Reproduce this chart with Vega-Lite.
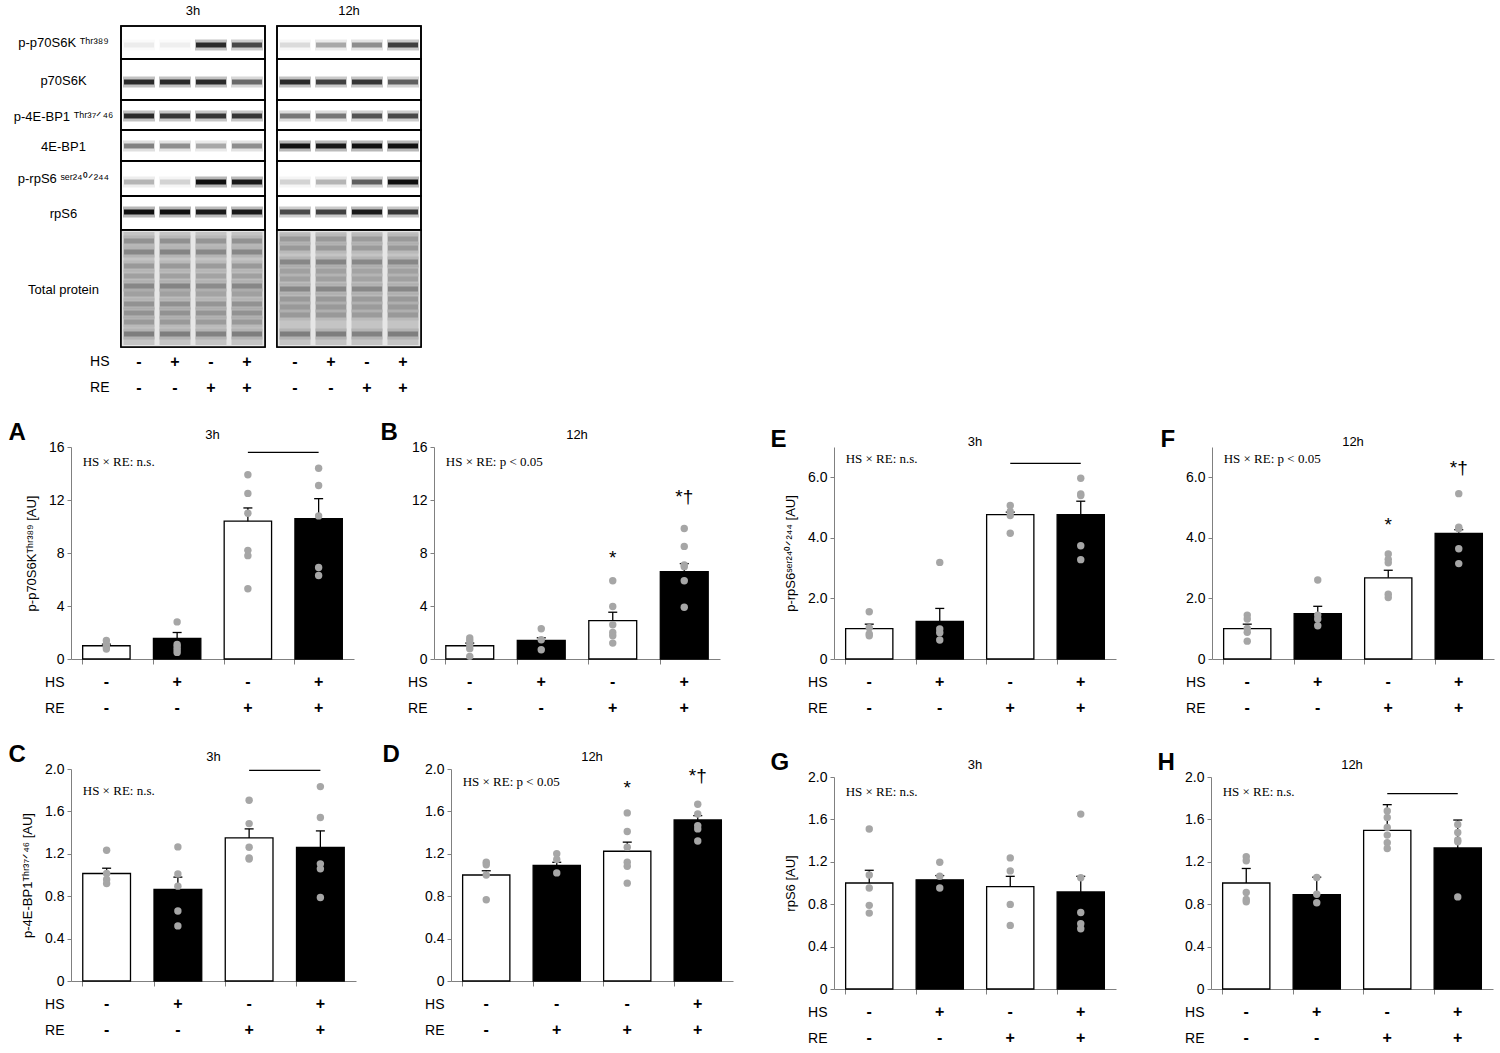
{
  "$schema": "https://vega.github.io/schema/vega-lite/v6.json",
  "background": "white",
  "padding": {"left": 8, "top": 5, "right": 2, "bottom": 2},
  "config": {
    "view": {"stroke": null},
    "font": "Liberation Sans",
    "title": {"font": "Liberation Sans", "fontSize": 13, "fontWeight": "normal", "color": "black"},
    "axis": {"grid": false, "labelFont": "Liberation Sans", "titleFont": "Liberation Sans", "labelColor": "black", "titleColor": "black", "labelFontSize": 14, "titleFontSize": 13, "titleFontWeight": "normal", "domainColor": "#808080", "tickColor": "#808080", "labelOverlap": false},
    "axisY": {"tickSize": 4, "labelPadding": 3, "titlePadding": 10},
    "axisX": {"tickSize": 5}
  },
  "datasets": {
    "design": [
      {"group": "1", "factor": "HS", "sign": "-"}, {"group": "2", "factor": "HS", "sign": "+"},
      {"group": "3", "factor": "HS", "sign": "-"}, {"group": "4", "factor": "HS", "sign": "+"},
      {"group": "1", "factor": "RE", "sign": "-"}, {"group": "2", "factor": "RE", "sign": "-"},
      {"group": "3", "factor": "RE", "sign": "+"}, {"group": "4", "factor": "RE", "sign": "+"}
    ],
    "designD": [
      {"group": "1", "factor": "HS", "sign": "-"}, {"group": "2", "factor": "HS", "sign": "-"},
      {"group": "3", "factor": "HS", "sign": "-"}, {"group": "4", "factor": "HS", "sign": "+"},
      {"group": "1", "factor": "RE", "sign": "-"}, {"group": "2", "factor": "RE", "sign": "+"},
      {"group": "3", "factor": "RE", "sign": "+"}, {"group": "4", "factor": "RE", "sign": "+"}
    ],
    "strips": [
      {"strip": "p-p70S6K", "top": 0, "bottom": 33},
      {"strip": "p70S6K", "top": 33, "bottom": 74},
      {"strip": "p-4E-BP1", "top": 74, "bottom": 104},
      {"strip": "4E-BP1", "top": 104, "bottom": 135},
      {"strip": "p-rpS6", "top": 135, "bottom": 170},
      {"strip": "rpS6", "top": 170, "bottom": 204},
      {"strip": "Total protein", "top": 204, "bottom": 321}
    ],
    "bands": [
      {"time": "3h", "group": "1", "y": 19, "intensity": 0.06}, {"time": "3h", "group": "2", "y": 19, "intensity": 0.05}, {"time": "3h", "group": "3", "y": 19, "intensity": 0.85}, {"time": "3h", "group": "4", "y": 19, "intensity": 0.7},
      {"time": "3h", "group": "1", "y": 56, "intensity": 0.85}, {"time": "3h", "group": "2", "y": 56, "intensity": 0.85}, {"time": "3h", "group": "3", "y": 56, "intensity": 0.85}, {"time": "3h", "group": "4", "y": 56, "intensity": 0.55},
      {"time": "3h", "group": "1", "y": 90, "intensity": 0.85}, {"time": "3h", "group": "2", "y": 90, "intensity": 0.8}, {"time": "3h", "group": "3", "y": 90, "intensity": 0.8}, {"time": "3h", "group": "4", "y": 90, "intensity": 0.8},
      {"time": "3h", "group": "1", "y": 120, "intensity": 0.45}, {"time": "3h", "group": "2", "y": 120, "intensity": 0.4}, {"time": "3h", "group": "3", "y": 120, "intensity": 0.3}, {"time": "3h", "group": "4", "y": 120, "intensity": 0.4},
      {"time": "3h", "group": "1", "y": 156, "intensity": 0.25}, {"time": "3h", "group": "2", "y": 156, "intensity": 0.15}, {"time": "3h", "group": "3", "y": 156, "intensity": 1}, {"time": "3h", "group": "4", "y": 156, "intensity": 0.95},
      {"time": "3h", "group": "1", "y": 186, "intensity": 1}, {"time": "3h", "group": "2", "y": 186, "intensity": 1}, {"time": "3h", "group": "3", "y": 186, "intensity": 0.95}, {"time": "3h", "group": "4", "y": 186, "intensity": 0.95},
      {"time": "3h", "group": "1", "y": 215, "intensity": 0.22}, {"time": "3h", "group": "2", "y": 215, "intensity": 0.23}, {"time": "3h", "group": "3", "y": 215, "intensity": 0.21}, {"time": "3h", "group": "4", "y": 215, "intensity": 0.22},
      {"time": "3h", "group": "1", "y": 226, "intensity": 0.28}, {"time": "3h", "group": "2", "y": 226, "intensity": 0.29}, {"time": "3h", "group": "3", "y": 226, "intensity": 0.27}, {"time": "3h", "group": "4", "y": 226, "intensity": 0.28},
      {"time": "3h", "group": "1", "y": 240, "intensity": 0.19}, {"time": "3h", "group": "2", "y": 240, "intensity": 0.19}, {"time": "3h", "group": "3", "y": 240, "intensity": 0.18}, {"time": "3h", "group": "4", "y": 240, "intensity": 0.19},
      {"time": "3h", "group": "1", "y": 250, "intensity": 0.16}, {"time": "3h", "group": "2", "y": 250, "intensity": 0.16}, {"time": "3h", "group": "3", "y": 250, "intensity": 0.15}, {"time": "3h", "group": "4", "y": 250, "intensity": 0.16},
      {"time": "3h", "group": "1", "y": 260, "intensity": 0.28}, {"time": "3h", "group": "2", "y": 260, "intensity": 0.29}, {"time": "3h", "group": "3", "y": 260, "intensity": 0.25}, {"time": "3h", "group": "4", "y": 260, "intensity": 0.28},
      {"time": "3h", "group": "1", "y": 268, "intensity": 0.16}, {"time": "3h", "group": "2", "y": 268, "intensity": 0.16}, {"time": "3h", "group": "3", "y": 268, "intensity": 0.15}, {"time": "3h", "group": "4", "y": 268, "intensity": 0.16},
      {"time": "3h", "group": "1", "y": 278, "intensity": 0.22}, {"time": "3h", "group": "2", "y": 278, "intensity": 0.23}, {"time": "3h", "group": "3", "y": 278, "intensity": 0.21}, {"time": "3h", "group": "4", "y": 278, "intensity": 0.22},
      {"time": "3h", "group": "1", "y": 287, "intensity": 0.22}, {"time": "3h", "group": "2", "y": 287, "intensity": 0.22}, {"time": "3h", "group": "3", "y": 287, "intensity": 0.21}, {"time": "3h", "group": "4", "y": 287, "intensity": 0.22},
      {"time": "3h", "group": "1", "y": 296, "intensity": 0.19}, {"time": "3h", "group": "2", "y": 296, "intensity": 0.19}, {"time": "3h", "group": "3", "y": 296, "intensity": 0.18}, {"time": "3h", "group": "4", "y": 296, "intensity": 0.19},
      {"time": "3h", "group": "1", "y": 308, "intensity": 0.32}, {"time": "3h", "group": "2", "y": 308, "intensity": 0.32}, {"time": "3h", "group": "3", "y": 308, "intensity": 0.3}, {"time": "3h", "group": "4", "y": 308, "intensity": 0.32},
      {"time": "12h", "group": "1", "y": 19, "intensity": 0.12}, {"time": "12h", "group": "2", "y": 19, "intensity": 0.3}, {"time": "12h", "group": "3", "y": 19, "intensity": 0.4}, {"time": "12h", "group": "4", "y": 19, "intensity": 0.75},
      {"time": "12h", "group": "1", "y": 56, "intensity": 0.85}, {"time": "12h", "group": "2", "y": 56, "intensity": 0.75}, {"time": "12h", "group": "3", "y": 56, "intensity": 0.8}, {"time": "12h", "group": "4", "y": 56, "intensity": 0.6},
      {"time": "12h", "group": "1", "y": 90, "intensity": 0.5}, {"time": "12h", "group": "2", "y": 90, "intensity": 0.5}, {"time": "12h", "group": "3", "y": 90, "intensity": 0.65}, {"time": "12h", "group": "4", "y": 90, "intensity": 0.7},
      {"time": "12h", "group": "1", "y": 120, "intensity": 1}, {"time": "12h", "group": "2", "y": 120, "intensity": 0.95}, {"time": "12h", "group": "3", "y": 120, "intensity": 1}, {"time": "12h", "group": "4", "y": 120, "intensity": 1},
      {"time": "12h", "group": "1", "y": 156, "intensity": 0.15}, {"time": "12h", "group": "2", "y": 156, "intensity": 0.25}, {"time": "12h", "group": "3", "y": 156, "intensity": 0.6}, {"time": "12h", "group": "4", "y": 156, "intensity": 1},
      {"time": "12h", "group": "1", "y": 186, "intensity": 0.7}, {"time": "12h", "group": "2", "y": 186, "intensity": 0.75}, {"time": "12h", "group": "3", "y": 186, "intensity": 0.95}, {"time": "12h", "group": "4", "y": 186, "intensity": 0.8},
      {"time": "12h", "group": "1", "y": 213, "intensity": 0.19}, {"time": "12h", "group": "2", "y": 213, "intensity": 0.19}, {"time": "12h", "group": "3", "y": 213, "intensity": 0.18}, {"time": "12h", "group": "4", "y": 213, "intensity": 0.19},
      {"time": "12h", "group": "1", "y": 222, "intensity": 0.19}, {"time": "12h", "group": "2", "y": 222, "intensity": 0.19}, {"time": "12h", "group": "3", "y": 222, "intensity": 0.18}, {"time": "12h", "group": "4", "y": 222, "intensity": 0.19},
      {"time": "12h", "group": "1", "y": 236, "intensity": 0.28}, {"time": "12h", "group": "2", "y": 236, "intensity": 0.29}, {"time": "12h", "group": "3", "y": 236, "intensity": 0.27}, {"time": "12h", "group": "4", "y": 236, "intensity": 0.28},
      {"time": "12h", "group": "1", "y": 245, "intensity": 0.16}, {"time": "12h", "group": "2", "y": 245, "intensity": 0.16}, {"time": "12h", "group": "3", "y": 245, "intensity": 0.15}, {"time": "12h", "group": "4", "y": 245, "intensity": 0.16},
      {"time": "12h", "group": "1", "y": 253, "intensity": 0.16}, {"time": "12h", "group": "2", "y": 253, "intensity": 0.16}, {"time": "12h", "group": "3", "y": 253, "intensity": 0.15}, {"time": "12h", "group": "4", "y": 253, "intensity": 0.16},
      {"time": "12h", "group": "1", "y": 263, "intensity": 0.28}, {"time": "12h", "group": "2", "y": 263, "intensity": 0.28}, {"time": "12h", "group": "3", "y": 263, "intensity": 0.27}, {"time": "12h", "group": "4", "y": 263, "intensity": 0.28},
      {"time": "12h", "group": "1", "y": 273, "intensity": 0.19}, {"time": "12h", "group": "2", "y": 273, "intensity": 0.19}, {"time": "12h", "group": "3", "y": 273, "intensity": 0.18}, {"time": "12h", "group": "4", "y": 273, "intensity": 0.19},
      {"time": "12h", "group": "1", "y": 281, "intensity": 0.19}, {"time": "12h", "group": "2", "y": 281, "intensity": 0.19}, {"time": "12h", "group": "3", "y": 281, "intensity": 0.18}, {"time": "12h", "group": "4", "y": 281, "intensity": 0.19},
      {"time": "12h", "group": "1", "y": 289, "intensity": 0.19}, {"time": "12h", "group": "2", "y": 289, "intensity": 0.19}, {"time": "12h", "group": "3", "y": 289, "intensity": 0.18}, {"time": "12h", "group": "4", "y": 289, "intensity": 0.19},
      {"time": "12h", "group": "1", "y": 308, "intensity": 0.32}, {"time": "12h", "group": "2", "y": 308, "intensity": 0.32}, {"time": "12h", "group": "3", "y": 308, "intensity": 0.3}, {"time": "12h", "group": "4", "y": 308, "intensity": 0.32}
    ],
    "bars": [
      {"panel": "A", "group": "1", "mean": 1.0, "upper": 1.12}, {"panel": "A", "group": "2", "mean": 1.55, "upper": 2.0}, {"panel": "A", "group": "3", "mean": 10.4, "upper": 11.4}, {"panel": "A", "group": "4", "mean": 10.6, "upper": 12.1},
      {"panel": "B", "group": "1", "mean": 1.0, "upper": 1.2}, {"panel": "B", "group": "2", "mean": 1.4, "upper": 1.6}, {"panel": "B", "group": "3", "mean": 2.9, "upper": 3.53}, {"panel": "B", "group": "4", "mean": 6.6, "upper": 7.2},
      {"panel": "C", "group": "1", "mean": 1.014, "upper": 1.064}, {"panel": "C", "group": "2", "mean": 0.863, "upper": 0.98}, {"panel": "C", "group": "3", "mean": 1.35, "upper": 1.435}, {"panel": "C", "group": "4", "mean": 1.26, "upper": 1.416},
      {"panel": "D", "group": "1", "mean": 1.0, "upper": 1.04}, {"panel": "D", "group": "2", "mean": 1.09, "upper": 1.12}, {"panel": "D", "group": "3", "mean": 1.224, "upper": 1.31}, {"panel": "D", "group": "4", "mean": 1.52, "upper": 1.56},
      {"panel": "E", "group": "1", "mean": 1.0, "upper": 1.15}, {"panel": "E", "group": "2", "mean": 1.24, "upper": 1.67}, {"panel": "E", "group": "3", "mean": 4.77, "upper": 4.85}, {"panel": "E", "group": "4", "mean": 4.77, "upper": 5.21},
      {"panel": "F", "group": "1", "mean": 1.0, "upper": 1.15}, {"panel": "F", "group": "2", "mean": 1.5, "upper": 1.74}, {"panel": "F", "group": "3", "mean": 2.68, "upper": 2.93}, {"panel": "F", "group": "4", "mean": 4.15, "upper": 4.27},
      {"panel": "G", "group": "1", "mean": 1.0, "upper": 1.12}, {"panel": "G", "group": "2", "mean": 1.03, "upper": 1.07}, {"panel": "G", "group": "3", "mean": 0.965, "upper": 1.063}, {"panel": "G", "group": "4", "mean": 0.915, "upper": 1.063},
      {"panel": "H", "group": "1", "mean": 1.0, "upper": 1.137}, {"panel": "H", "group": "2", "mean": 0.89, "upper": 1.055}, {"panel": "H", "group": "3", "mean": 1.496, "upper": 1.739}, {"panel": "H", "group": "4", "mean": 1.33, "upper": 1.594}
    ],
    "dots": [
      {"panel": "A", "group": "1", "value": 1.4}, {"panel": "A", "group": "1", "value": 1.1}, {"panel": "A", "group": "1", "value": 0.9}, {"panel": "A", "group": "1", "value": 0.75},
      {"panel": "A", "group": "2", "value": 2.8}, {"panel": "A", "group": "2", "value": 1.1}, {"panel": "A", "group": "2", "value": 0.9}, {"panel": "A", "group": "2", "value": 0.7}, {"panel": "A", "group": "2", "value": 0.5},
      {"panel": "A", "group": "3", "value": 13.9}, {"panel": "A", "group": "3", "value": 12.5}, {"panel": "A", "group": "3", "value": 11.0}, {"panel": "A", "group": "3", "value": 8.2}, {"panel": "A", "group": "3", "value": 7.8}, {"panel": "A", "group": "3", "value": 5.3},
      {"panel": "A", "group": "4", "value": 14.4}, {"panel": "A", "group": "4", "value": 13.1}, {"panel": "A", "group": "4", "value": 10.8}, {"panel": "A", "group": "4", "value": 6.9}, {"panel": "A", "group": "4", "value": 6.3},
      {"panel": "B", "group": "1", "value": 1.58}, {"panel": "B", "group": "1", "value": 1.38}, {"panel": "B", "group": "1", "value": 1.08}, {"panel": "B", "group": "1", "value": 0.78}, {"panel": "B", "group": "1", "value": 0.2},
      {"panel": "B", "group": "2", "value": 2.28}, {"panel": "B", "group": "2", "value": 1.45}, {"panel": "B", "group": "2", "value": 0.7},
      {"panel": "B", "group": "3", "value": 5.9}, {"panel": "B", "group": "3", "value": 3.96}, {"panel": "B", "group": "3", "value": 2.58}, {"panel": "B", "group": "3", "value": 2.0}, {"panel": "B", "group": "3", "value": 1.75}, {"panel": "B", "group": "3", "value": 1.2},
      {"panel": "B", "group": "4", "value": 9.85}, {"panel": "B", "group": "4", "value": 8.5}, {"panel": "B", "group": "4", "value": 7.1}, {"panel": "B", "group": "4", "value": 6.97}, {"panel": "B", "group": "4", "value": 5.9}, {"panel": "B", "group": "4", "value": 3.9},
      {"panel": "C", "group": "1", "value": 1.234}, {"panel": "C", "group": "1", "value": 1.014}, {"panel": "C", "group": "1", "value": 0.958}, {"panel": "C", "group": "1", "value": 0.92},
      {"panel": "C", "group": "2", "value": 1.265}, {"panel": "C", "group": "2", "value": 1.01}, {"panel": "C", "group": "2", "value": 0.895}, {"panel": "C", "group": "2", "value": 0.66}, {"panel": "C", "group": "2", "value": 0.52},
      {"panel": "C", "group": "3", "value": 1.705}, {"panel": "C", "group": "3", "value": 1.485}, {"panel": "C", "group": "3", "value": 1.262}, {"panel": "C", "group": "3", "value": 1.16}, {"panel": "C", "group": "3", "value": 1.15},
      {"panel": "C", "group": "4", "value": 1.834}, {"panel": "C", "group": "4", "value": 1.542}, {"panel": "C", "group": "4", "value": 1.105}, {"panel": "C", "group": "4", "value": 1.058}, {"panel": "C", "group": "4", "value": 0.788},
      {"panel": "D", "group": "1", "value": 1.12}, {"panel": "D", "group": "1", "value": 1.096}, {"panel": "D", "group": "1", "value": 1.0}, {"panel": "D", "group": "1", "value": 0.766},
      {"panel": "D", "group": "2", "value": 1.2}, {"panel": "D", "group": "2", "value": 1.146}, {"panel": "D", "group": "2", "value": 1.02},
      {"panel": "D", "group": "3", "value": 1.586}, {"panel": "D", "group": "3", "value": 1.41}, {"panel": "D", "group": "3", "value": 1.262}, {"panel": "D", "group": "3", "value": 1.12}, {"panel": "D", "group": "3", "value": 1.083}, {"panel": "D", "group": "3", "value": 0.923},
      {"panel": "D", "group": "4", "value": 1.667}, {"panel": "D", "group": "4", "value": 1.576}, {"panel": "D", "group": "4", "value": 1.466}, {"panel": "D", "group": "4", "value": 1.435}, {"panel": "D", "group": "4", "value": 1.32},
      {"panel": "E", "group": "1", "value": 1.56}, {"panel": "E", "group": "1", "value": 1.03}, {"panel": "E", "group": "1", "value": 0.83}, {"panel": "E", "group": "1", "value": 0.77},
      {"panel": "E", "group": "2", "value": 3.19}, {"panel": "E", "group": "2", "value": 0.99}, {"panel": "E", "group": "2", "value": 0.87}, {"panel": "E", "group": "2", "value": 0.63},
      {"panel": "E", "group": "3", "value": 5.07}, {"panel": "E", "group": "3", "value": 4.87}, {"panel": "E", "group": "3", "value": 4.74}, {"panel": "E", "group": "3", "value": 4.15},
      {"panel": "E", "group": "4", "value": 5.97}, {"panel": "E", "group": "4", "value": 5.45}, {"panel": "E", "group": "4", "value": 5.4}, {"panel": "E", "group": "4", "value": 3.74}, {"panel": "E", "group": "4", "value": 3.28},
      {"panel": "F", "group": "1", "value": 1.45}, {"panel": "F", "group": "1", "value": 1.32}, {"panel": "F", "group": "1", "value": 1.01}, {"panel": "F", "group": "1", "value": 0.88}, {"panel": "F", "group": "1", "value": 0.59},
      {"panel": "F", "group": "2", "value": 2.61}, {"panel": "F", "group": "2", "value": 1.45}, {"panel": "F", "group": "2", "value": 1.32}, {"panel": "F", "group": "2", "value": 1.1},
      {"panel": "F", "group": "3", "value": 3.47}, {"panel": "F", "group": "3", "value": 3.29}, {"panel": "F", "group": "3", "value": 3.18}, {"panel": "F", "group": "3", "value": 2.14}, {"panel": "F", "group": "3", "value": 2.03},
      {"panel": "F", "group": "4", "value": 5.46}, {"panel": "F", "group": "4", "value": 4.35}, {"panel": "F", "group": "4", "value": 4.3}, {"panel": "F", "group": "4", "value": 3.64}, {"panel": "F", "group": "4", "value": 3.15},
      {"panel": "G", "group": "1", "value": 1.51}, {"panel": "G", "group": "1", "value": 1.076}, {"panel": "G", "group": "1", "value": 0.953}, {"panel": "G", "group": "1", "value": 0.789}, {"panel": "G", "group": "1", "value": 0.716},
      {"panel": "G", "group": "2", "value": 1.196}, {"panel": "G", "group": "2", "value": 1.063}, {"panel": "G", "group": "2", "value": 0.953},
      {"panel": "G", "group": "3", "value": 1.237}, {"panel": "G", "group": "3", "value": 1.114}, {"panel": "G", "group": "3", "value": 0.798}, {"panel": "G", "group": "3", "value": 0.6},
      {"panel": "G", "group": "4", "value": 1.65}, {"panel": "G", "group": "4", "value": 1.05}, {"panel": "G", "group": "4", "value": 0.722}, {"panel": "G", "group": "4", "value": 0.615}, {"panel": "G", "group": "4", "value": 0.568},
      {"panel": "H", "group": "1", "value": 1.247}, {"panel": "H", "group": "1", "value": 1.21}, {"panel": "H", "group": "1", "value": 0.91}, {"panel": "H", "group": "1", "value": 0.844}, {"panel": "H", "group": "1", "value": 0.822},
      {"panel": "H", "group": "2", "value": 1.052}, {"panel": "H", "group": "2", "value": 0.894}, {"panel": "H", "group": "2", "value": 0.813},
      {"panel": "H", "group": "3", "value": 1.679}, {"panel": "H", "group": "3", "value": 1.619}, {"panel": "H", "group": "3", "value": 1.524}, {"panel": "H", "group": "3", "value": 1.452}, {"panel": "H", "group": "3", "value": 1.38}, {"panel": "H", "group": "3", "value": 1.326},
      {"panel": "H", "group": "4", "value": 1.553}, {"panel": "H", "group": "4", "value": 1.477}, {"panel": "H", "group": "4", "value": 1.405}, {"panel": "H", "group": "4", "value": 1.389}, {"panel": "H", "group": "4", "value": 0.869}
    ],
    "notes": [
      {"panel": "A", "label": "HS × RE: n.s.", "y": 14.9},
      {"panel": "B", "label": "HS × RE: p < 0.05", "y": 14.9},
      {"panel": "C", "label": "HS × RE: n.s.", "y": 1.79},
      {"panel": "D", "label": "HS × RE: p < 0.05", "y": 1.88},
      {"panel": "E", "label": "HS × RE: n.s.", "y": 6.6},
      {"panel": "F", "label": "HS × RE: p < 0.05", "y": 6.6},
      {"panel": "G", "label": "HS × RE: n.s.", "y": 1.86},
      {"panel": "H", "label": "HS × RE: n.s.", "y": 1.86}
    ],
    "stars": [
      {"panel": "B", "group": "3", "label": "*", "y": 7.6},
      {"panel": "B", "group": "4", "label": "*†", "y": 12.2},
      {"panel": "D", "group": "3", "label": "*", "y": 1.818},
      {"panel": "D", "group": "4", "label": "*†", "y": 1.93},
      {"panel": "F", "group": "3", "label": "*", "y": 4.41},
      {"panel": "F", "group": "4", "label": "*†", "y": 6.3}
    ],
    "brackets": [
      {"panel": "A", "from": "3", "to": "4", "y": 15.6},
      {"panel": "C", "from": "3", "to": "4", "y": 1.987},
      {"panel": "E", "from": "3", "to": "4", "y": 6.46},
      {"panel": "H", "from": "3", "to": "4", "y": 1.843}
    ]
  },
  "columns": 1,
  "align": "none",
  "spacing": 20,
  "concat": [
    {
      "spacing": 7,
      "hconcat": [
        {
          "spacing": 1,
          "vconcat": [
            {
              "width": 30, "height": 321,
              "data": {"name": "strips"},
              "mark": {"type": "tick", "opacity": 0},
              "encoding": {
                "y": {"field": "top", "type": "quantitative", "scale": {"domain": [0, 321], "reverse": true, "nice": false, "zero": false},
                      "axis": {"title": null, "domain": false, "ticks": false, "tickSize": 0, "labelAlign": "center", "labelBaseline": "middle", "labelPadding": 8, "labelFontSize": 13,
                               "values": [16.5, 54, 90, 120, 152.5, 187, 263],
                               "labelExpr": "datum.value === 16.5 ? 'p-p70S6K ᵀʰʳ³⁸⁹' : datum.value === 54 ? 'p70S6K' : datum.value === 90 ? 'p-4E-BP1 ᵀʰʳ³⁷ᐟ⁴⁶' : datum.value === 120 ? '4E-BP1' : datum.value === 152.5 ? 'p-rpS6 ˢᵉʳ²⁴⁰ᐟ²⁴⁴' : datum.value === 187 ? 'rpS6' : 'Total protein'"}}
              }
            },
            {
              "width": 30, "height": 52,
              "data": {"name": "design"},
              "mark": {"type": "text", "opacity": 0},
              "encoding": {
                "y": {"field": "factor", "type": "nominal", "scale": {"domain": ["HS", "RE"], "paddingInner": 0, "paddingOuter": 0}, "axis": {"orient": "right", "title": null, "domain": false, "ticks": false, "tickSize": 0, "labelFontSize": 14, "labelAlign": "right", "labelPadding": 8}},
                "text": {"field": "sign"}
              }
            }
          ]
        },
        {
          "spacing": 10,
          "hconcat": [
            {
              "spacing": 1,
              "vconcat": [
                {
                  "width": 144, "height": 321,
                  "title": {"text": "3h", "offset": 7},
                  "layer": [
                    {"data": {"name": "strips"}, "mark": {"type": "rect", "fill": "white", "stroke": "black", "strokeWidth": 1.6},
                     "encoding": {
                       "y": {"field": "top", "type": "quantitative", "scale": {"domain": [0, 321], "reverse": true, "nice": false, "zero": false}, "axis": null},
                       "y2": {"field": "bottom"}
                     }},
                    {"data": {"name": "strips"}, "transform": [{"filter": "datum.strip === 'Total protein'"}],
                     "mark": {"type": "rect", "fill": "#e6e6e6"},
                     "encoding": {"y": {"field": "top", "type": "quantitative"}, "y2": {"field": "bottom"}}},
                    {"data": {"name": "design"}, "transform": [{"filter": "datum.factor === 'HS'"}],
                     "mark": {"type": "rect", "width": {"band": 0.86}, "fill": "#c4c4c4"},
                     "encoding": {
                       "x": {"field": "group", "type": "nominal", "scale": {"domain": ["1", "2", "3", "4"], "paddingInner": 0, "paddingOuter": 0}, "axis": null},
                       "y": {"datum": 206}, "y2": {"datum": 319}
                     }},
                    {"data": {"name": "bands"}, "transform": [{"filter": "datum.time === '3h'"}],
                     "mark": {"type": "tick", "size": 32, "thickness": 11, "color": "#111111", "opacity": 1},
                     "encoding": {
                       "x": {"field": "group", "type": "nominal"},
                       "y": {"field": "y", "type": "quantitative"},
                       "fillOpacity": {"field": "intensity", "type": "quantitative", "scale": {"domain": [0, 1], "range": [0, 0.3]}, "legend": null}
                     }},
                    {"data": {"name": "bands"}, "transform": [{"filter": "datum.time === '3h'"}],
                     "mark": {"type": "tick", "size": 30, "thickness": 5, "color": "#111111"},
                     "encoding": {
                       "x": {"field": "group", "type": "nominal"},
                       "y": {"field": "y", "type": "quantitative"},
                       "opacity": {"field": "intensity", "type": "quantitative", "scale": null, "legend": null}
                     }},
                    {"data": {"name": "strips"}, "mark": {"type": "rect", "fillOpacity": 0, "stroke": "black", "strokeWidth": 1.6},
                     "encoding": {"y": {"field": "top", "type": "quantitative"}, "y2": {"field": "bottom"}}}
                  ]
                },
                {
                  "width": 144, "height": 52,
                  "data": {"name": "design"},
                  "mark": {"type": "text", "fontSize": 16, "fontWeight": "bold", "font": "Liberation Sans"},
                  "encoding": {
                    "x": {"field": "group", "type": "nominal", "scale": {"domain": ["1", "2", "3", "4"], "paddingInner": 0, "paddingOuter": 0}, "axis": null},
                    "y": {"field": "factor", "type": "nominal", "scale": {"domain": ["HS", "RE"], "paddingInner": 0, "paddingOuter": 0}, "axis": null},
                    "text": {"field": "sign"}
                  }
                }
              ]
            },
            {
              "spacing": 1,
              "vconcat": [
                {
                  "width": 144, "height": 321,
                  "title": {"text": "12h", "offset": 7},
                  "layer": [
                    {"data": {"name": "strips"}, "mark": {"type": "rect", "fill": "white", "stroke": "black", "strokeWidth": 1.6},
                     "encoding": {
                       "y": {"field": "top", "type": "quantitative", "scale": {"domain": [0, 321], "reverse": true, "nice": false, "zero": false}, "axis": null},
                       "y2": {"field": "bottom"}
                     }},
                    {"data": {"name": "strips"}, "transform": [{"filter": "datum.strip === 'Total protein'"}],
                     "mark": {"type": "rect", "fill": "#e6e6e6"},
                     "encoding": {"y": {"field": "top", "type": "quantitative"}, "y2": {"field": "bottom"}}},
                    {"data": {"name": "design"}, "transform": [{"filter": "datum.factor === 'HS'"}],
                     "mark": {"type": "rect", "width": {"band": 0.86}, "fill": "#c4c4c4"},
                     "encoding": {
                       "x": {"field": "group", "type": "nominal", "scale": {"domain": ["1", "2", "3", "4"], "paddingInner": 0, "paddingOuter": 0}, "axis": null},
                       "y": {"datum": 206}, "y2": {"datum": 319}
                     }},
                    {"data": {"name": "bands"}, "transform": [{"filter": "datum.time === '12h'"}],
                     "mark": {"type": "tick", "size": 32, "thickness": 11, "color": "#111111", "opacity": 1},
                     "encoding": {
                       "x": {"field": "group", "type": "nominal"},
                       "y": {"field": "y", "type": "quantitative"},
                       "fillOpacity": {"field": "intensity", "type": "quantitative", "scale": {"domain": [0, 1], "range": [0, 0.3]}, "legend": null}
                     }},
                    {"data": {"name": "bands"}, "transform": [{"filter": "datum.time === '12h'"}],
                     "mark": {"type": "tick", "size": 30, "thickness": 5, "color": "#111111"},
                     "encoding": {
                       "x": {"field": "group", "type": "nominal"},
                       "y": {"field": "y", "type": "quantitative"},
                       "opacity": {"field": "intensity", "type": "quantitative", "scale": null, "legend": null}
                     }},
                    {"data": {"name": "strips"}, "mark": {"type": "rect", "fillOpacity": 0, "stroke": "black", "strokeWidth": 1.6},
                     "encoding": {"y": {"field": "top", "type": "quantitative"}, "y2": {"field": "bottom"}}}
                  ]
                },
                {
                  "width": 144, "height": 52,
                  "data": {"name": "design"},
                  "mark": {"type": "text", "fontSize": 16, "fontWeight": "bold", "font": "Liberation Sans"},
                  "encoding": {
                    "x": {"field": "group", "type": "nominal", "scale": {"domain": ["1", "2", "3", "4"], "paddingInner": 0, "paddingOuter": 0}, "axis": null},
                    "y": {"field": "factor", "type": "nominal", "scale": {"domain": ["HS", "RE"], "paddingInner": 0, "paddingOuter": 0}, "axis": null},
                    "text": {"field": "sign"}
                  }
                }
              ]
            }
          ]
        }
      ]
    },
    {
      "spacing": 37,
      "hconcat": [
        {
          "spacing": 22,
          "vconcat": [
            {
              "spacing": 26,
              "hconcat": [
                {
                  "title": {"text": "A", "anchor": "start", "fontSize": 24, "fontWeight": "bold", "offset": 0, "dy": 16, "dx": -17},
                  "spacing": 3,
                  "vconcat": [
                    {
                      "width": 283, "height": 212,
                      "title": {"text": "3h", "offset": -2},
                      "layer": [
                        {"data": {"name": "bars"}, "transform": [{"filter": "datum.panel === 'A'"}],
                         "mark": {"type": "bar", "stroke": "black", "strokeWidth": 1.3},
                         "encoding": {
                           "x": {"field": "group", "type": "nominal", "scale": {"domain": ["1", "2", "3", "4"], "paddingInner": 0.33, "paddingOuter": 0.165}, "axis": {"title": null, "labels": false, "bandPosition": 0}},
                           "y": {"field": "mean", "type": "quantitative", "scale": {"domain": [0, 16], "nice": false}, "axis": {"title": "p-p70S6Kᵀʰʳ³⁸⁹ [AU]", "values": [0, 2, 4, 6, 8, 10, 12, 14, 16], "labelOverlap": false}},
                           "fill": {"field": "group", "type": "nominal", "scale": {"domain": ["1", "2", "3", "4"], "range": ["white", "black", "white", "black"]}, "legend": null}
                         }},
                        {"data": {"name": "bars"}, "transform": [{"filter": "datum.panel === 'A'"}],
                         "mark": {"type": "rule", "strokeWidth": 1.3, "color": "black"},
                         "encoding": {"x": {"field": "group", "type": "nominal"}, "y": {"field": "mean", "type": "quantitative"}, "y2": {"field": "upper"}}},
                        {"data": {"name": "bars"}, "transform": [{"filter": "datum.panel === 'A'"}],
                         "mark": {"type": "tick", "size": 9, "thickness": 1.3, "color": "black", "opacity": 1},
                         "encoding": {"x": {"field": "group", "type": "nominal"}, "y": {"field": "upper", "type": "quantitative"}}},
                        {"data": {"name": "dots"}, "transform": [{"filter": "datum.panel === 'A'"}],
                         "mark": {"type": "circle", "size": 55, "color": "#a6a6a6", "opacity": 1},
                         "encoding": {"x": {"field": "group", "type": "nominal"}, "y": {"field": "value", "type": "quantitative"}}},
                        {"data": {"name": "notes"}, "transform": [{"filter": "datum.panel === 'A'"}],
                         "mark": {"type": "text", "font": "Liberation Serif", "fontSize": 13, "align": "left", "baseline": "middle"},
                         "encoding": {"x": {"datum": "1", "bandPosition": 0}, "y": {"field": "y", "type": "quantitative"}, "text": {"field": "label"}}},
                        {"data": {"name": "brackets"}, "transform": [{"filter": "datum.panel === 'A'"}],
                         "mark": {"type": "rule", "strokeWidth": 1.3, "color": "black"},
                         "encoding": {"x": {"field": "from", "type": "nominal"}, "x2": {"field": "to"}, "y": {"field": "y", "type": "quantitative"}}}
                      ]
                    },
                    {
                      "width": 283, "height": 52,
                      "data": {"name": "design"},
                      "mark": {"type": "text", "fontSize": 16, "fontWeight": "bold", "font": "Liberation Sans"},
                      "encoding": {
                        "x": {"field": "group", "type": "nominal", "scale": {"domain": ["1", "2", "3", "4"], "paddingInner": 0.33, "paddingOuter": 0.165}, "axis": null},
                        "y": {"field": "factor", "type": "nominal", "scale": {"domain": ["HS", "RE"], "paddingInner": 0, "paddingOuter": 0}, "axis": {"title": null, "domain": false, "ticks": false, "labelFontSize": 14, "labelPadding": 7}},
                        "text": {"field": "sign"}
                      }
                    }
                  ]
                },
                {
                  "title": {"text": "B", "anchor": "start", "fontSize": 24, "fontWeight": "bold", "offset": 0, "dy": 16, "dx": -27},
                  "spacing": 3,
                  "vconcat": [
                    {
                      "width": 286, "height": 212,
                      "title": {"text": "12h", "offset": -2},
                      "layer": [
                        {"data": {"name": "bars"}, "transform": [{"filter": "datum.panel === 'B'"}],
                         "mark": {"type": "bar", "stroke": "black", "strokeWidth": 1.3},
                         "encoding": {
                           "x": {"field": "group", "type": "nominal", "scale": {"domain": ["1", "2", "3", "4"], "paddingInner": 0.33, "paddingOuter": 0.165}, "axis": {"title": null, "labels": false, "bandPosition": 0}},
                           "y": {"field": "mean", "type": "quantitative", "scale": {"domain": [0, 16], "nice": false}, "axis": {"title": null, "values": [0, 2, 4, 6, 8, 10, 12, 14, 16], "labelOverlap": false}},
                           "fill": {"field": "group", "type": "nominal", "scale": {"domain": ["1", "2", "3", "4"], "range": ["white", "black", "white", "black"]}, "legend": null}
                         }},
                        {"data": {"name": "bars"}, "transform": [{"filter": "datum.panel === 'B'"}],
                         "mark": {"type": "rule", "strokeWidth": 1.3, "color": "black"},
                         "encoding": {"x": {"field": "group", "type": "nominal"}, "y": {"field": "mean", "type": "quantitative"}, "y2": {"field": "upper"}}},
                        {"data": {"name": "bars"}, "transform": [{"filter": "datum.panel === 'B'"}],
                         "mark": {"type": "tick", "size": 9, "thickness": 1.3, "color": "black", "opacity": 1},
                         "encoding": {"x": {"field": "group", "type": "nominal"}, "y": {"field": "upper", "type": "quantitative"}}},
                        {"data": {"name": "dots"}, "transform": [{"filter": "datum.panel === 'B'"}],
                         "mark": {"type": "circle", "size": 55, "color": "#a6a6a6", "opacity": 1},
                         "encoding": {"x": {"field": "group", "type": "nominal"}, "y": {"field": "value", "type": "quantitative"}}},
                        {"data": {"name": "notes"}, "transform": [{"filter": "datum.panel === 'B'"}],
                         "mark": {"type": "text", "font": "Liberation Serif", "fontSize": 13, "align": "left", "baseline": "middle"},
                         "encoding": {"x": {"datum": "1", "bandPosition": 0}, "y": {"field": "y", "type": "quantitative"}, "text": {"field": "label"}}},
                        {"data": {"name": "stars"}, "transform": [{"filter": "datum.panel === 'B'"}],
                         "mark": {"type": "text", "fontSize": 19, "baseline": "middle"},
                         "encoding": {"x": {"field": "group", "type": "nominal"}, "y": {"field": "y", "type": "quantitative"}, "text": {"field": "label"}}}
                      ]
                    },
                    {
                      "width": 286, "height": 52,
                      "data": {"name": "design"},
                      "mark": {"type": "text", "fontSize": 16, "fontWeight": "bold", "font": "Liberation Sans"},
                      "encoding": {
                        "x": {"field": "group", "type": "nominal", "scale": {"domain": ["1", "2", "3", "4"], "paddingInner": 0.33, "paddingOuter": 0.165}, "axis": null},
                        "y": {"field": "factor", "type": "nominal", "scale": {"domain": ["HS", "RE"], "paddingInner": 0, "paddingOuter": 0}, "axis": {"title": null, "domain": false, "ticks": false, "labelFontSize": 14, "labelPadding": 7}},
                        "text": {"field": "sign"}
                      }
                    }
                  ]
                }
              ]
            },
            {
              "spacing": 26,
              "hconcat": [
                {
                  "title": {"text": "C", "anchor": "start", "fontSize": 24, "fontWeight": "bold", "offset": 0, "dy": 16, "dx": -13},
                  "spacing": 3,
                  "vconcat": [
                    {
                      "width": 285, "height": 212,
                      "title": {"text": "3h", "offset": -2},
                      "layer": [
                        {"data": {"name": "bars"}, "transform": [{"filter": "datum.panel === 'C'"}],
                         "mark": {"type": "bar", "stroke": "black", "strokeWidth": 1.3},
                         "encoding": {
                           "x": {"field": "group", "type": "nominal", "scale": {"domain": ["1", "2", "3", "4"], "paddingInner": 0.33, "paddingOuter": 0.165}, "axis": {"title": null, "labels": false, "bandPosition": 0}},
                           "y": {"field": "mean", "type": "quantitative", "scale": {"domain": [0, 2], "nice": false}, "axis": {"title": "p-4E-BP1ᵀʰʳ³⁷ᐟ⁴⁶ [AU]", "values": [0, 0.2, 0.4, 0.6, 0.8, 1.0, 1.2, 1.4, 1.6, 1.8, 2.0], "labelOverlap": false, "labelExpr": "datum.value === 0 ? '0' : format(datum.value, '.1f')"}},
                           "fill": {"field": "group", "type": "nominal", "scale": {"domain": ["1", "2", "3", "4"], "range": ["white", "black", "white", "black"]}, "legend": null}
                         }},
                        {"data": {"name": "bars"}, "transform": [{"filter": "datum.panel === 'C'"}],
                         "mark": {"type": "rule", "strokeWidth": 1.3, "color": "black"},
                         "encoding": {"x": {"field": "group", "type": "nominal"}, "y": {"field": "mean", "type": "quantitative"}, "y2": {"field": "upper"}}},
                        {"data": {"name": "bars"}, "transform": [{"filter": "datum.panel === 'C'"}],
                         "mark": {"type": "tick", "size": 9, "thickness": 1.3, "color": "black", "opacity": 1},
                         "encoding": {"x": {"field": "group", "type": "nominal"}, "y": {"field": "upper", "type": "quantitative"}}},
                        {"data": {"name": "dots"}, "transform": [{"filter": "datum.panel === 'C'"}],
                         "mark": {"type": "circle", "size": 55, "color": "#a6a6a6", "opacity": 1},
                         "encoding": {"x": {"field": "group", "type": "nominal"}, "y": {"field": "value", "type": "quantitative"}}},
                        {"data": {"name": "notes"}, "transform": [{"filter": "datum.panel === 'C'"}],
                         "mark": {"type": "text", "font": "Liberation Serif", "fontSize": 13, "align": "left", "baseline": "middle"},
                         "encoding": {"x": {"datum": "1", "bandPosition": 0}, "y": {"field": "y", "type": "quantitative"}, "text": {"field": "label"}}},
                        {"data": {"name": "brackets"}, "transform": [{"filter": "datum.panel === 'C'"}],
                         "mark": {"type": "rule", "strokeWidth": 1.3, "color": "black"},
                         "encoding": {"x": {"field": "from", "type": "nominal"}, "x2": {"field": "to"}, "y": {"field": "y", "type": "quantitative"}}}
                      ]
                    },
                    {
                      "width": 285, "height": 52,
                      "data": {"name": "design"},
                      "mark": {"type": "text", "fontSize": 16, "fontWeight": "bold", "font": "Liberation Sans"},
                      "encoding": {
                        "x": {"field": "group", "type": "nominal", "scale": {"domain": ["1", "2", "3", "4"], "paddingInner": 0.33, "paddingOuter": 0.165}, "axis": null},
                        "y": {"field": "factor", "type": "nominal", "scale": {"domain": ["HS", "RE"], "paddingInner": 0, "paddingOuter": 0}, "axis": {"title": null, "domain": false, "ticks": false, "labelFontSize": 14, "labelPadding": 7}},
                        "text": {"field": "sign"}
                      }
                    }
                  ]
                },
                {
                  "title": {"text": "D", "anchor": "start", "fontSize": 24, "fontWeight": "bold", "offset": 0, "dy": 16, "dx": -42},
                  "spacing": 3,
                  "vconcat": [
                    {
                      "width": 282, "height": 212,
                      "title": {"text": "12h", "offset": -2},
                      "layer": [
                        {"data": {"name": "bars"}, "transform": [{"filter": "datum.panel === 'D'"}],
                         "mark": {"type": "bar", "stroke": "black", "strokeWidth": 1.3},
                         "encoding": {
                           "x": {"field": "group", "type": "nominal", "scale": {"domain": ["1", "2", "3", "4"], "paddingInner": 0.33, "paddingOuter": 0.165}, "axis": {"title": null, "labels": false, "bandPosition": 0}},
                           "y": {"field": "mean", "type": "quantitative", "scale": {"domain": [0, 2], "nice": false}, "axis": {"title": null, "values": [0, 0.2, 0.4, 0.6, 0.8, 1.0, 1.2, 1.4, 1.6, 1.8, 2.0], "labelOverlap": false, "labelExpr": "datum.value === 0 ? '0' : format(datum.value, '.1f')"}},
                           "fill": {"field": "group", "type": "nominal", "scale": {"domain": ["1", "2", "3", "4"], "range": ["white", "black", "white", "black"]}, "legend": null}
                         }},
                        {"data": {"name": "bars"}, "transform": [{"filter": "datum.panel === 'D'"}],
                         "mark": {"type": "rule", "strokeWidth": 1.3, "color": "black"},
                         "encoding": {"x": {"field": "group", "type": "nominal"}, "y": {"field": "mean", "type": "quantitative"}, "y2": {"field": "upper"}}},
                        {"data": {"name": "bars"}, "transform": [{"filter": "datum.panel === 'D'"}],
                         "mark": {"type": "tick", "size": 9, "thickness": 1.3, "color": "black", "opacity": 1},
                         "encoding": {"x": {"field": "group", "type": "nominal"}, "y": {"field": "upper", "type": "quantitative"}}},
                        {"data": {"name": "dots"}, "transform": [{"filter": "datum.panel === 'D'"}],
                         "mark": {"type": "circle", "size": 55, "color": "#a6a6a6", "opacity": 1},
                         "encoding": {"x": {"field": "group", "type": "nominal"}, "y": {"field": "value", "type": "quantitative"}}},
                        {"data": {"name": "notes"}, "transform": [{"filter": "datum.panel === 'D'"}],
                         "mark": {"type": "text", "font": "Liberation Serif", "fontSize": 13, "align": "left", "baseline": "middle"},
                         "encoding": {"x": {"datum": "1", "bandPosition": 0}, "y": {"field": "y", "type": "quantitative"}, "text": {"field": "label"}}},
                        {"data": {"name": "stars"}, "transform": [{"filter": "datum.panel === 'D'"}],
                         "mark": {"type": "text", "fontSize": 19, "baseline": "middle"},
                         "encoding": {"x": {"field": "group", "type": "nominal"}, "y": {"field": "y", "type": "quantitative"}, "text": {"field": "label"}}}
                      ]
                    },
                    {
                      "width": 282, "height": 52,
                      "data": {"name": "designD"},
                      "mark": {"type": "text", "fontSize": 16, "fontWeight": "bold", "font": "Liberation Sans"},
                      "encoding": {
                        "x": {"field": "group", "type": "nominal", "scale": {"domain": ["1", "2", "3", "4"], "paddingInner": 0.33, "paddingOuter": 0.165}, "axis": null},
                        "y": {"field": "factor", "type": "nominal", "scale": {"domain": ["HS", "RE"], "paddingInner": 0, "paddingOuter": 0}, "axis": {"title": null, "domain": false, "ticks": false, "labelFontSize": 14, "labelPadding": 7}},
                        "text": {"field": "sign"}
                      }
                    }
                  ]
                }
              ]
            }
          ]
        },
        {
          "spacing": 30,
          "vconcat": [
            {
              "spacing": 44,
              "hconcat": [
                {
                  "title": {"text": "E", "anchor": "start", "fontSize": 24, "fontWeight": "bold", "offset": 0, "dy": 16, "dx": -14},
                  "spacing": 3,
                  "vconcat": [
                    {
                      "width": 282, "height": 212,
                      "title": {"text": "3h", "offset": -2},
                      "layer": [
                        {"data": {"name": "bars"}, "transform": [{"filter": "datum.panel === 'E'"}],
                         "mark": {"type": "bar", "stroke": "black", "strokeWidth": 1.3},
                         "encoding": {
                           "x": {"field": "group", "type": "nominal", "scale": {"domain": ["1", "2", "3", "4"], "paddingInner": 0.33, "paddingOuter": 0.165}, "axis": {"title": null, "labels": false, "bandPosition": 0}},
                           "y": {"field": "mean", "type": "quantitative", "scale": {"domain": [0, 7], "nice": false}, "axis": {"title": "p-rpS6ˢᵉʳ²⁴⁰ᐟ²⁴⁴ [AU]", "values": [0, 1, 2, 3, 4, 5, 6, 7], "labelOverlap": false, "labelExpr": "datum.value === 0 ? '0' : format(datum.value, '.1f')"}},
                           "fill": {"field": "group", "type": "nominal", "scale": {"domain": ["1", "2", "3", "4"], "range": ["white", "black", "white", "black"]}, "legend": null}
                         }},
                        {"data": {"name": "bars"}, "transform": [{"filter": "datum.panel === 'E'"}],
                         "mark": {"type": "rule", "strokeWidth": 1.3, "color": "black"},
                         "encoding": {"x": {"field": "group", "type": "nominal"}, "y": {"field": "mean", "type": "quantitative"}, "y2": {"field": "upper"}}},
                        {"data": {"name": "bars"}, "transform": [{"filter": "datum.panel === 'E'"}],
                         "mark": {"type": "tick", "size": 9, "thickness": 1.3, "color": "black", "opacity": 1},
                         "encoding": {"x": {"field": "group", "type": "nominal"}, "y": {"field": "upper", "type": "quantitative"}}},
                        {"data": {"name": "dots"}, "transform": [{"filter": "datum.panel === 'E'"}],
                         "mark": {"type": "circle", "size": 55, "color": "#a6a6a6", "opacity": 1},
                         "encoding": {"x": {"field": "group", "type": "nominal"}, "y": {"field": "value", "type": "quantitative"}}},
                        {"data": {"name": "notes"}, "transform": [{"filter": "datum.panel === 'E'"}],
                         "mark": {"type": "text", "font": "Liberation Serif", "fontSize": 13, "align": "left", "baseline": "middle"},
                         "encoding": {"x": {"datum": "1", "bandPosition": 0}, "y": {"field": "y", "type": "quantitative"}, "text": {"field": "label"}}},
                        {"data": {"name": "brackets"}, "transform": [{"filter": "datum.panel === 'E'"}],
                         "mark": {"type": "rule", "strokeWidth": 1.3, "color": "black"},
                         "encoding": {"x": {"field": "from", "type": "nominal"}, "x2": {"field": "to"}, "y": {"field": "y", "type": "quantitative"}}}
                      ]
                    },
                    {
                      "width": 282, "height": 52,
                      "data": {"name": "design"},
                      "mark": {"type": "text", "fontSize": 16, "fontWeight": "bold", "font": "Liberation Sans"},
                      "encoding": {
                        "x": {"field": "group", "type": "nominal", "scale": {"domain": ["1", "2", "3", "4"], "paddingInner": 0.33, "paddingOuter": 0.165}, "axis": null},
                        "y": {"field": "factor", "type": "nominal", "scale": {"domain": ["HS", "RE"], "paddingInner": 0, "paddingOuter": 0}, "axis": {"title": null, "domain": false, "ticks": false, "labelFontSize": 14, "labelPadding": 7}},
                        "text": {"field": "sign"}
                      }
                    }
                  ]
                },
                {
                  "title": {"text": "F", "anchor": "start", "fontSize": 24, "fontWeight": "bold", "offset": 0, "dy": 16, "dx": -25},
                  "spacing": 3,
                  "vconcat": [
                    {
                      "width": 282, "height": 212,
                      "title": {"text": "12h", "offset": -2},
                      "layer": [
                        {"data": {"name": "bars"}, "transform": [{"filter": "datum.panel === 'F'"}],
                         "mark": {"type": "bar", "stroke": "black", "strokeWidth": 1.3},
                         "encoding": {
                           "x": {"field": "group", "type": "nominal", "scale": {"domain": ["1", "2", "3", "4"], "paddingInner": 0.33, "paddingOuter": 0.165}, "axis": {"title": null, "labels": false, "bandPosition": 0}},
                           "y": {"field": "mean", "type": "quantitative", "scale": {"domain": [0, 7], "nice": false}, "axis": {"title": null, "values": [0, 1, 2, 3, 4, 5, 6, 7], "labelOverlap": false, "labelExpr": "datum.value === 0 ? '0' : format(datum.value, '.1f')"}},
                           "fill": {"field": "group", "type": "nominal", "scale": {"domain": ["1", "2", "3", "4"], "range": ["white", "black", "white", "black"]}, "legend": null}
                         }},
                        {"data": {"name": "bars"}, "transform": [{"filter": "datum.panel === 'F'"}],
                         "mark": {"type": "rule", "strokeWidth": 1.3, "color": "black"},
                         "encoding": {"x": {"field": "group", "type": "nominal"}, "y": {"field": "mean", "type": "quantitative"}, "y2": {"field": "upper"}}},
                        {"data": {"name": "bars"}, "transform": [{"filter": "datum.panel === 'F'"}],
                         "mark": {"type": "tick", "size": 9, "thickness": 1.3, "color": "black", "opacity": 1},
                         "encoding": {"x": {"field": "group", "type": "nominal"}, "y": {"field": "upper", "type": "quantitative"}}},
                        {"data": {"name": "dots"}, "transform": [{"filter": "datum.panel === 'F'"}],
                         "mark": {"type": "circle", "size": 55, "color": "#a6a6a6", "opacity": 1},
                         "encoding": {"x": {"field": "group", "type": "nominal"}, "y": {"field": "value", "type": "quantitative"}}},
                        {"data": {"name": "notes"}, "transform": [{"filter": "datum.panel === 'F'"}],
                         "mark": {"type": "text", "font": "Liberation Serif", "fontSize": 13, "align": "left", "baseline": "middle"},
                         "encoding": {"x": {"datum": "1", "bandPosition": 0}, "y": {"field": "y", "type": "quantitative"}, "text": {"field": "label"}}},
                        {"data": {"name": "stars"}, "transform": [{"filter": "datum.panel === 'F'"}],
                         "mark": {"type": "text", "fontSize": 19, "baseline": "middle"},
                         "encoding": {"x": {"field": "group", "type": "nominal"}, "y": {"field": "y", "type": "quantitative"}, "text": {"field": "label"}}}
                      ]
                    },
                    {
                      "width": 282, "height": 52,
                      "data": {"name": "design"},
                      "mark": {"type": "text", "fontSize": 16, "fontWeight": "bold", "font": "Liberation Sans"},
                      "encoding": {
                        "x": {"field": "group", "type": "nominal", "scale": {"domain": ["1", "2", "3", "4"], "paddingInner": 0.33, "paddingOuter": 0.165}, "axis": null},
                        "y": {"field": "factor", "type": "nominal", "scale": {"domain": ["HS", "RE"], "paddingInner": 0, "paddingOuter": 0}, "axis": {"title": null, "domain": false, "ticks": false, "labelFontSize": 14, "labelPadding": 7}},
                        "text": {"field": "sign"}
                      }
                    }
                  ]
                }
              ]
            },
            {
              "spacing": 41,
              "hconcat": [
                {
                  "title": {"text": "G", "anchor": "start", "fontSize": 24, "fontWeight": "bold", "offset": 0, "dy": 16, "dx": -14},
                  "spacing": 3,
                  "vconcat": [
                    {
                      "width": 282, "height": 212,
                      "title": {"text": "3h", "offset": -2},
                      "layer": [
                        {"data": {"name": "bars"}, "transform": [{"filter": "datum.panel === 'G'"}],
                         "mark": {"type": "bar", "stroke": "black", "strokeWidth": 1.3},
                         "encoding": {
                           "x": {"field": "group", "type": "nominal", "scale": {"domain": ["1", "2", "3", "4"], "paddingInner": 0.33, "paddingOuter": 0.165}, "axis": {"title": null, "labels": false, "bandPosition": 0}},
                           "y": {"field": "mean", "type": "quantitative", "scale": {"domain": [0, 2], "nice": false}, "axis": {"title": "rpS6 [AU]", "values": [0, 0.2, 0.4, 0.6, 0.8, 1.0, 1.2, 1.4, 1.6, 1.8, 2.0], "labelOverlap": false, "labelExpr": "datum.value === 0 ? '0' : format(datum.value, '.1f')"}},
                           "fill": {"field": "group", "type": "nominal", "scale": {"domain": ["1", "2", "3", "4"], "range": ["white", "black", "white", "black"]}, "legend": null}
                         }},
                        {"data": {"name": "bars"}, "transform": [{"filter": "datum.panel === 'G'"}],
                         "mark": {"type": "rule", "strokeWidth": 1.3, "color": "black"},
                         "encoding": {"x": {"field": "group", "type": "nominal"}, "y": {"field": "mean", "type": "quantitative"}, "y2": {"field": "upper"}}},
                        {"data": {"name": "bars"}, "transform": [{"filter": "datum.panel === 'G'"}],
                         "mark": {"type": "tick", "size": 9, "thickness": 1.3, "color": "black", "opacity": 1},
                         "encoding": {"x": {"field": "group", "type": "nominal"}, "y": {"field": "upper", "type": "quantitative"}}},
                        {"data": {"name": "dots"}, "transform": [{"filter": "datum.panel === 'G'"}],
                         "mark": {"type": "circle", "size": 55, "color": "#a6a6a6", "opacity": 1},
                         "encoding": {"x": {"field": "group", "type": "nominal"}, "y": {"field": "value", "type": "quantitative"}}},
                        {"data": {"name": "notes"}, "transform": [{"filter": "datum.panel === 'G'"}],
                         "mark": {"type": "text", "font": "Liberation Serif", "fontSize": 13, "align": "left", "baseline": "middle"},
                         "encoding": {"x": {"datum": "1", "bandPosition": 0}, "y": {"field": "y", "type": "quantitative"}, "text": {"field": "label"}}}
                      ]
                    },
                    {
                      "width": 282, "height": 52,
                      "data": {"name": "design"},
                      "mark": {"type": "text", "fontSize": 16, "fontWeight": "bold", "font": "Liberation Sans"},
                      "encoding": {
                        "x": {"field": "group", "type": "nominal", "scale": {"domain": ["1", "2", "3", "4"], "paddingInner": 0.33, "paddingOuter": 0.165}, "axis": null},
                        "y": {"field": "factor", "type": "nominal", "scale": {"domain": ["HS", "RE"], "paddingInner": 0, "paddingOuter": 0}, "axis": {"title": null, "domain": false, "ticks": false, "labelFontSize": 14, "labelPadding": 7}},
                        "text": {"field": "sign"}
                      }
                    }
                  ]
                },
                {
                  "title": {"text": "H", "anchor": "start", "fontSize": 24, "fontWeight": "bold", "offset": 0, "dy": 16, "dx": -27},
                  "spacing": 3,
                  "vconcat": [
                    {
                      "width": 282, "height": 212,
                      "title": {"text": "12h", "offset": -2},
                      "layer": [
                        {"data": {"name": "bars"}, "transform": [{"filter": "datum.panel === 'H'"}],
                         "mark": {"type": "bar", "stroke": "black", "strokeWidth": 1.3},
                         "encoding": {
                           "x": {"field": "group", "type": "nominal", "scale": {"domain": ["1", "2", "3", "4"], "paddingInner": 0.33, "paddingOuter": 0.165}, "axis": {"title": null, "labels": false, "bandPosition": 0}},
                           "y": {"field": "mean", "type": "quantitative", "scale": {"domain": [0, 2], "nice": false}, "axis": {"title": null, "values": [0, 0.2, 0.4, 0.6, 0.8, 1.0, 1.2, 1.4, 1.6, 1.8, 2.0], "labelOverlap": false, "labelExpr": "datum.value === 0 ? '0' : format(datum.value, '.1f')"}},
                           "fill": {"field": "group", "type": "nominal", "scale": {"domain": ["1", "2", "3", "4"], "range": ["white", "black", "white", "black"]}, "legend": null}
                         }},
                        {"data": {"name": "bars"}, "transform": [{"filter": "datum.panel === 'H'"}],
                         "mark": {"type": "rule", "strokeWidth": 1.3, "color": "black"},
                         "encoding": {"x": {"field": "group", "type": "nominal"}, "y": {"field": "mean", "type": "quantitative"}, "y2": {"field": "upper"}}},
                        {"data": {"name": "bars"}, "transform": [{"filter": "datum.panel === 'H'"}],
                         "mark": {"type": "tick", "size": 9, "thickness": 1.3, "color": "black", "opacity": 1},
                         "encoding": {"x": {"field": "group", "type": "nominal"}, "y": {"field": "upper", "type": "quantitative"}}},
                        {"data": {"name": "dots"}, "transform": [{"filter": "datum.panel === 'H'"}],
                         "mark": {"type": "circle", "size": 55, "color": "#a6a6a6", "opacity": 1},
                         "encoding": {"x": {"field": "group", "type": "nominal"}, "y": {"field": "value", "type": "quantitative"}}},
                        {"data": {"name": "notes"}, "transform": [{"filter": "datum.panel === 'H'"}],
                         "mark": {"type": "text", "font": "Liberation Serif", "fontSize": 13, "align": "left", "baseline": "middle"},
                         "encoding": {"x": {"datum": "1", "bandPosition": 0}, "y": {"field": "y", "type": "quantitative"}, "text": {"field": "label"}}},
                        {"data": {"name": "brackets"}, "transform": [{"filter": "datum.panel === 'H'"}],
                         "mark": {"type": "rule", "strokeWidth": 1.3, "color": "black"},
                         "encoding": {"x": {"field": "from", "type": "nominal"}, "x2": {"field": "to"}, "y": {"field": "y", "type": "quantitative"}}}
                      ]
                    },
                    {
                      "width": 282, "height": 52,
                      "data": {"name": "design"},
                      "mark": {"type": "text", "fontSize": 16, "fontWeight": "bold", "font": "Liberation Sans"},
                      "encoding": {
                        "x": {"field": "group", "type": "nominal", "scale": {"domain": ["1", "2", "3", "4"], "paddingInner": 0.33, "paddingOuter": 0.165}, "axis": null},
                        "y": {"field": "factor", "type": "nominal", "scale": {"domain": ["HS", "RE"], "paddingInner": 0, "paddingOuter": 0}, "axis": {"title": null, "domain": false, "ticks": false, "labelFontSize": 14, "labelPadding": 7}},
                        "text": {"field": "sign"}
                      }
                    }
                  ]
                }
              ]
            }
          ]
        }
      ]
    }
  ]
}
